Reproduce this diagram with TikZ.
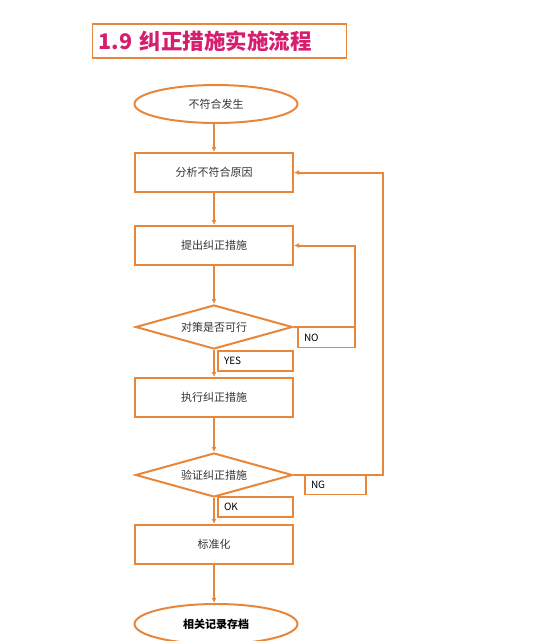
\documentclass[tikz,border=0pt]{standalone}
\usepackage{fontspec}
\setmainfont{Noto Sans CJK SC}
\usepackage{tikz}
\usetikzlibrary{shapes.geometric,arrows.meta}
\definecolor{flow}{RGB}{232,134,58}
\definecolor{titlered}{RGB}{214,30,110}

\begin{document}
\begin{tikzpicture}[x=1pt,y=-1pt,
    stepbox/.style={draw=flow, line width=2pt, rectangle, minimum width=158pt, minimum height=39pt,
      font=\fontsize{11}{13}\selectfont, text=black!80},
    ends/.style={draw=flow, line width=2pt, ellipse, minimum width=163pt, minimum height=38pt,
      font=\fontsize{11}{13}\selectfont, text=black!80},
    test/.style={draw=flow, line width=2pt, diamond, shape aspect=3.57, inner sep=0pt,
      minimum width=157pt, minimum height=44pt, font=\fontsize{11}{13}\selectfont, text=black!80},
    tag/.style={draw=flow, line width=1.7pt, inner xsep=6pt, inner ysep=0pt, minimum height=20pt,
      align=left, font=\fontsize{10}{12}\selectfont},
    arr/.style={draw=flow, line width=2pt, -{Latex[length=5pt,width=5pt]}}]
    \useasboundingbox (0,0) rectangle (556,641);
    % Title
    \node[draw=flow, line width=1.4pt, anchor=west, minimum width=254pt, minimum height=34pt,
      inner xsep=6pt, text width=242pt, align=left, text=titlered,
      font=\fontsize{21.5}{25}\selectfont\bfseries] (title) at (92,41) {1.9 纠正措施实施流程};
    % Flow steps
    \node[ends] (start) at (216,104) {不符合发生};
    \node[stepbox] (analyse) at (214,172.5) {分析不符合原因};
    \node[stepbox] (propose) at (214,245.5) {提出纠正措施};
    \node[test] (check) at (214,327) {对策是否可行};
    \node[stepbox] (execute) at (214,397.5) {执行纠正措施};
    \node[test] (verify) at (214,475) {验证纠正措施};
    \node[stepbox] (standard) at (214,544.5) {标准化};
    \node[ends, minimum height=40pt, font=\fontsize{11}{13}\selectfont\bfseries, text=black] (archive) at (216,624) {相关记录存档};
    % Branch labels
    \node[tag, minimum width=57pt, text width=45pt] (no) at (326.5,337.5) {NO};
    \node[tag, minimum width=75pt, text width=63pt] (yes) at (255.5,361) {YES};
    \node[tag, minimum width=61pt, text width=49pt] (ng) at (335.5,484.5) {NG};
    \node[tag, minimum width=75pt, text width=63pt] (ok) at (255.5,507) {OK};
    % Turning points of the loops
    \coordinate (noturn) at (355,327);
    \coordinate (ngturn) at (383,475);
    % Connectors
    \draw[arr] (analyse.north |- start.south) -- (analyse.north);
    \draw[arr] (analyse) -- (propose);
    \draw[arr] (propose) -- (check);
    \draw[arr] (check) -- (execute);
    \draw[arr] (execute) -- (verify);
    \draw[arr] (verify) -- (standard);
    \draw[arr] (standard) -- (archive.north -| standard.south);
    \draw[arr] (check.east) -- (noturn) |- (propose.east);
    \draw[arr] (verify.east) -- (ngturn) |- (analyse.east);
\end{tikzpicture}
\end{document}
